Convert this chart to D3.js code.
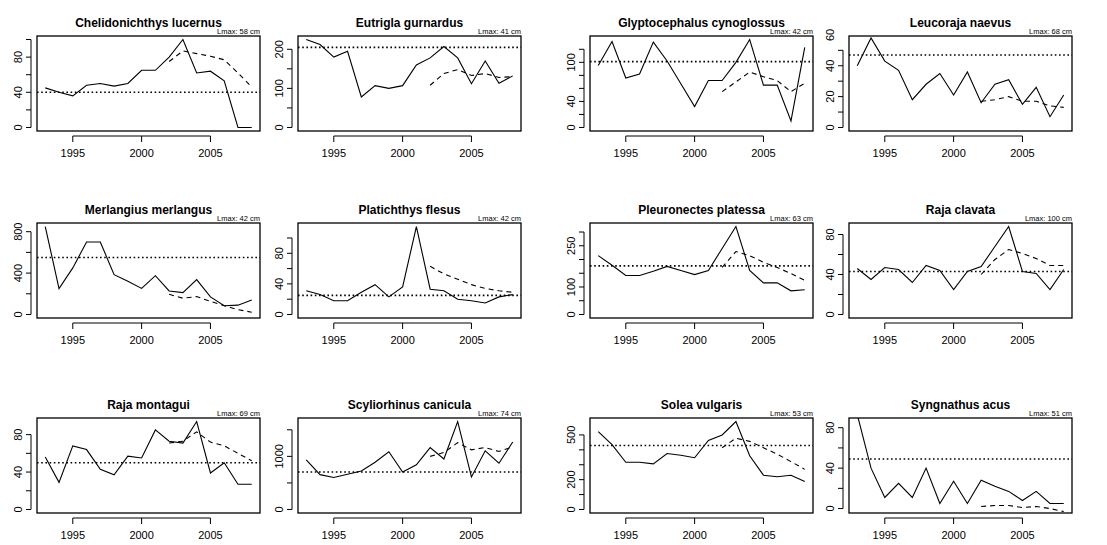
<!DOCTYPE html>
<html><head><meta charset="utf-8">
<script src="https://cdn.jsdelivr.net/npm/d3@7"></script>
<style>body{margin:0;background:#fff}</style>
</head><body>
<script>
var years = d3.range(1993, 2009);
var fitYears = d3.range(2002, 2009);
var species = ["Chelidonichthys lucernus", "Eutrigla gurnardus", "Glyptocephalus cynoglossus", "Leucoraja naevus",
    "Merlangius merlangus", "Platichthys flesus", "Pleuronectes platessa", "Raja clavata",
    "Raja montagui", "Scyliorhinus canicula", "Solea vulgaris", "Syngnathus acus"];
var lmax = ["Lmax: 58 cm", "Lmax: 41 cm", "Lmax: 42 cm", "Lmax: 68 cm", "Lmax: 42 cm", "Lmax: 42 cm",
    "Lmax: 63 cm", "Lmax: 100 cm", "Lmax: 69 cm", "Lmax: 74 cm", "Lmax: 53 cm", "Lmax: 51 cm"];
var observed = [
    [45, 40, 36, 48, 50, 47, 50, 65, 65, 80, 100, 62, 64, 53, 0, 0],
    [225, 212, 180, 195, 78, 107, 100, 107, 160, 178, 207, 178, 112, 170, 113, 132],
    [95, 132, 76, 82, 131, 102, 67, 32, 72, 72, 100, 135, 65, 65, 10, 123],
    [40, 58, 43, 37, 18, 28, 35, 21, 36, 16, 28, 31, 15, 26, 7, 21],
    [850, 250, 450, 700, 700, 385, 320, 252, 375, 227, 211, 337, 170, 85, 90, 140],
    [31, 26, 18, 18, 29, 39, 23, 36, 115, 33, 31, 20, 18, 15, 23, 26],
    [214, 179, 142, 142, 157, 175, 160, 145, 160, 240, 320, 160, 115, 115, 86, 90],
    [46, 35, 47, 45, 32, 49, 44, 25, 43, 48, 68, 88, 43, 41, 25, 45],
    [56, 29, 68, 64, 43, 37, 57, 55, 85, 73, 71, 94, 39, 50, 27, 27],
    [932, 656, 601, 663, 724, 890, 1086, 706, 840, 1166, 951, 1656, 613, 1104, 871, 1270],
    [522, 435, 317, 317, 306, 375, 364, 347, 463, 500, 590, 360, 230, 220, 230, 187],
    [93, 40, 11, 25, 11, 40, 5, 27, 5, 28, 22, 17, 8, 17, 5, 5]
];
var fitted = [
    [75, 87, 84, 81, 77, 62, 46],
    [108, 138, 148, 133, 138, 128, 130],
    [55, 70, 85, 78, 72, 55, 68],
    [17, 18, 20, 17, 17, 14, 13],
    [195, 157, 173, 126, 85, 47, 22],
    [63, 53, 46, 39, 34, 31, 29],
    [171, 229, 214, 190, 171, 149, 124],
    [40, 55, 65, 61, 56, 49, 49],
    [71, 73, 83, 72, 68, 60, 52],
    [1000, 1073, 1258, 1123, 1166, 1092, 1178],
    [414, 478, 457, 414, 371, 321, 269],
    [2, 3, 3, 1, 2, 0, -3]
];
var refLine = [40, 205, 101, 47, 551, 25, 177, 43, 50, 706, 429, 49];
var yTop = [100, 225, 135, 57, 850, 115, 320, 88, 94, 1656, 590, 86];
var yBottom = [0, 0, 0, 0, 0, 0, 0, 0, 0, 0, 0, -4.4];
var tickStep = [20, 50, 20, 10, 200, 20, 50, 20, 20, 500, 100, 20];
var tickLabels = [[0, 40, 80], [0, 100, 200], [0, 40, 100], [0, 20, 40, 60], [0, 400, 800], [0, 40, 80],
    [0, 100, 250], [0, 40, 80], [0, 40, 80], [0, 1000], [0, 200, 500], [0, 40, 80]];
var xTicks = [1995, 2000, 2005];

var colLeft = [37, 298, 590, 849];
var rowTop = [36, 223, 418];
var boxW = 223, boxH = 95;

var svg = d3.select("body").append("svg").attr("width", 1107).attr("height", 545)
    .style("font-family", "Liberation Sans, Arial, sans-serif");

species.forEach(function (name, i) {
    var left = colLeft[i % 4], top = rowTop[Math.floor(i / 4)];
    var g = svg.append("g").attr("transform", "translate(" + left + "," + top + ")");

    // R style 4% padding on both axes
    var x = d3.scaleLinear().domain([1992.4, 2008.6]).range([0, boxW]);
    var pad = (yTop[i] - yBottom[i]) * 0.04;
    var lo = yBottom[i] === 0 ? -pad : yBottom[i];
    var y = d3.scaleLinear().domain([lo, yTop[i] + pad]).range([boxH, 0]);

    var clipId = "clip" + i;
    g.append("clipPath").attr("id", clipId).append("rect").attr("width", boxW).attr("height", boxH);
    var plot = g.append("g").attr("clip-path", "url(#" + clipId + ")");

    var line = d3.line().x(function (d) { return x(d[0]); }).y(function (d) { return y(d[1]); });

    plot.append("path").datum(d3.zip(years, observed[i])).attr("d", line)
        .attr("fill", "none").attr("stroke", "#000").attr("stroke-width", 1.1);
    plot.append("path").datum(d3.zip(fitYears, fitted[i])).attr("d", line)
        .attr("fill", "none").attr("stroke", "#000").attr("stroke-width", 1.1).attr("stroke-dasharray", "5,4");
    plot.append("line").attr("x1", 0).attr("x2", boxW).attr("y1", y(refLine[i])).attr("y2", y(refLine[i]))
        .attr("stroke", "#000").attr("stroke-width", 1.6).attr("stroke-dasharray", "1.6,2.6");

    g.append("rect").attr("width", boxW).attr("height", boxH)
        .attr("fill", "none").attr("stroke", "#000").attr("stroke-width", 1.3);

    // x axis
    var xa = g.append("g").attr("transform", "translate(0," + (boxH + 5) + ")");
    xa.append("line").attr("x1", x(1995)).attr("x2", x(2005)).attr("stroke", "#000");
    xTicks.forEach(function (t) {
        xa.append("line").attr("x1", x(t)).attr("x2", x(t)).attr("y1", 0).attr("y2", 6).attr("stroke", "#000");
        xa.append("text").attr("x", x(t)).attr("y", 21).attr("text-anchor", "middle")
            .attr("font-size", 11).text(t);
    });

    // y axis
    var ticks = d3.range(0, yTop[i] + 1e-9, tickStep[i]);
    var ya = g.append("g").attr("transform", "translate(-6,0)");
    ya.append("line").attr("y1", y(ticks[0])).attr("y2", y(ticks[ticks.length - 1])).attr("stroke", "#000");
    ticks.forEach(function (t) {
        ya.append("line").attr("x1", 0).attr("x2", -5).attr("y1", y(t)).attr("y2", y(t)).attr("stroke", "#000");
    });
    tickLabels[i].forEach(function (t) {
        ya.append("text").attr("transform", "translate(-9," + y(t) + ") rotate(-90)")
            .attr("text-anchor", "middle").attr("font-size", 11).text(t);
    });

    g.append("text").attr("x", boxW / 2).attr("y", -9).attr("text-anchor", "middle")
        .attr("font-size", 12).attr("font-weight", "bold").text(name);
    g.append("text").attr("x", boxW).attr("y", -2).attr("text-anchor", "end").attr("fill", "#000")
        .attr("font-size", 7.5).attr("font-family", "Liberation Sans Narrow, Liberation Sans, sans-serif")
        .text(lmax[i]);
});
</script>
</body></html>
